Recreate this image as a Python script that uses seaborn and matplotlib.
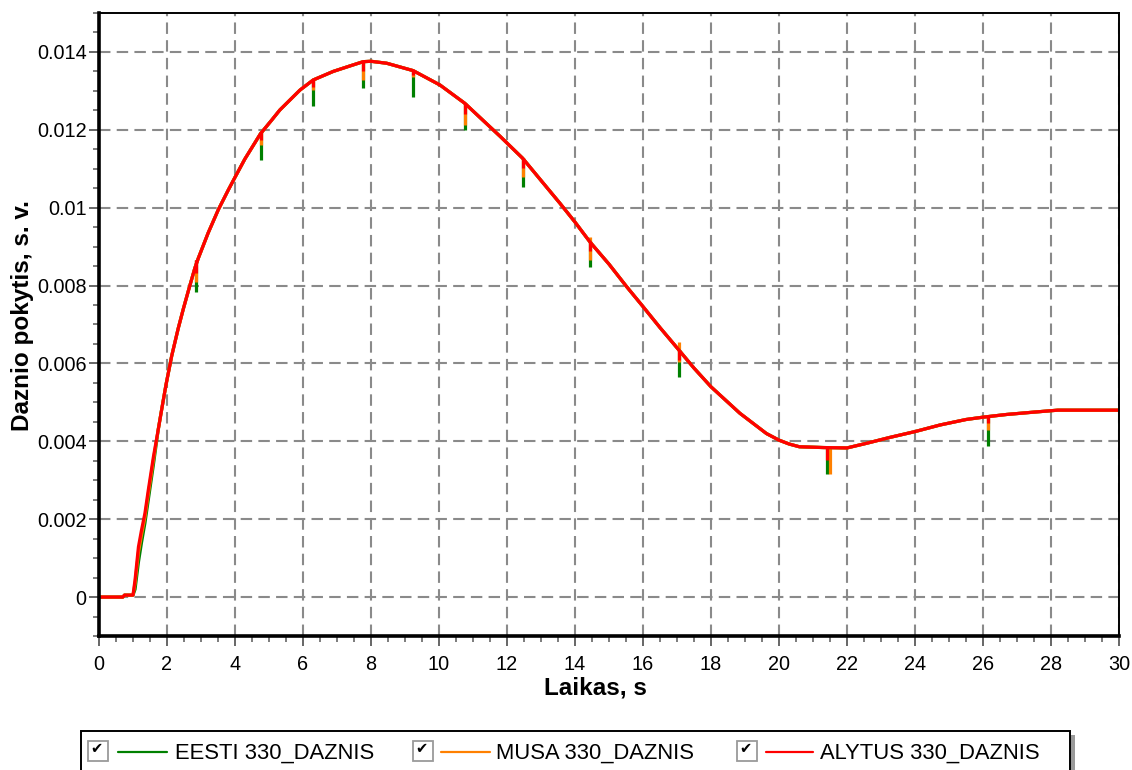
import matplotlib
matplotlib.use("Agg")
import matplotlib.pyplot as plt
from matplotlib.patches import Rectangle
from matplotlib.lines import Line2D
from matplotlib.ticker import MultipleLocator, FuncFormatter
import pandas as pd
import seaborn as sns

# --- data -------------------------------------------------------------------
series_names = ["EESTI 330_DAZNIS", "MUSA 330_DAZNIS", "ALYTUS 330_DAZNIS"]
series_colors = ["#008000", "#ff8000", "#ff0000"]

time_head = [0, 0.7, 0.75, 1.0, 1.06, 1.16, 1.25, 1.35, 1.45, 1.6]
time_tail = [1.74, 1.84, 1.97, 2.14, 2.33, 2.48, 2.63, 2.82, 2.92, 3.21,
             3.51, 3.8, 4.0, 4.29, 4.75, 5.08, 5.32, 5.91, 6.3, 6.89,
             7.38, 7.77, 8.0, 8.46, 9.24, 10.03, 10.76, 11.2, 11.8, 12.46,
             13.0, 13.56, 14.0, 14.44, 15.0, 15.52, 16.0, 16.5, 17.06, 17.5,
             18.0, 18.85, 19.24, 19.63, 20.0, 20.3, 20.6, 21.3, 22.0, 22.58,
             23.26, 24.0, 24.74, 25.5, 26.0, 26.7, 27.5, 28.2, 29.0, 30.0]

# start of the rise differs slightly between the three buses
eesti_head = [0, 0, 0.00005, 0.00005, 0.00020, 0.00090, 0.00140, 0.00190, 0.00250, 0.00340]
musa_head = [0, 0, 0.00005, 0.00005, 0.00035, 0.00115, 0.00160, 0.00205, 0.00265, 0.00352]
alytus_head = [0, 0, 0.00005, 0.00005, 0.00044, 0.00129, 0.00172, 0.00215, 0.00275, 0.00360]

# common course after the first second and a half
curve_tail = [0.00429, 0.00480, 0.00545, 0.00620, 0.00690, 0.00740, 0.00787, 0.00845, 0.00870, 0.00935,
              0.00995, 0.01045, 0.01078, 0.01125, 0.01190, 0.01225, 0.01251, 0.01302, 0.01328, 0.01350,
              0.01364, 0.01375, 0.01376, 0.01371, 0.01352, 0.01315, 0.01268, 0.01232, 0.01183, 0.01127,
              0.01070, 0.01011, 0.00963, 0.00912, 0.00855, 0.00797, 0.00746, 0.00692, 0.00634, 0.00588,
              0.00540, 0.00472, 0.00446, 0.00420, 0.00403, 0.00393, 0.00386, 0.00384, 0.00383, 0.00395,
              0.00410, 0.00425, 0.00442, 0.00456, 0.00462, 0.00469, 0.00475, 0.00480, 0.00480, 0.00480]

# short dips in the frequency signal (switching events)
spike_time = [2.85, 4.75, 6.30, 7.77, 9.24, 10.76, 12.46, 14.44, 17.06, 21.40, 26.14]
musa_spike_time = [2.85, 4.75, 6.30, 7.77, 9.24, 10.76, 12.46, 14.44, 17.06, 21.50, 26.14]
spike_top = [0.00866, 0.01195, 0.01328, 0.01375, 0.01354, 0.01268, 0.01127, 0.00915, 0.00634, 0.00386, 0.00463]
musa_spike_top = [0.00866, 0.01195, 0.01328, 0.01375, 0.01354, 0.01268, 0.01127, 0.00924, 0.00656, 0.00386, 0.00463]
eesti_spike_low = [0.00784, 0.01123, 0.01260, 0.01307, 0.01285, 0.01200, 0.01052, 0.00848, 0.00566, 0.00315, 0.00389]
musa_spike_low = [0.00810, 0.01161, 0.01302, 0.01328, 0.01335, 0.01213, 0.01080, 0.00866, 0.00604, 0.00315, 0.00429]
alytus_spike_low = [0.00831, 0.01174, 0.01310, 0.01350, 0.01340, 0.01240, 0.01101, 0.00890, 0.00610, 0.00352, 0.00446]

series_values = {
    series_names[0]: eesti_head + curve_tail,
    series_names[1]: musa_head + curve_tail,
    series_names[2]: alytus_head + curve_tail,
}
series_spikes = {
    series_names[0]: (spike_time, spike_top, eesti_spike_low),
    series_names[1]: (musa_spike_time, musa_spike_top, musa_spike_low),
    series_names[2]: (spike_time, spike_top, alytus_spike_low),
}

time_s = time_head + time_tail
frames = [pd.DataFrame({"t": time_s, "value": vals, "series": name})
          for name, vals in series_values.items()]
df = pd.concat(frames, ignore_index=True)

# --- style ------------------------------------------------------------------
sns.set_theme(style="white")
plt.rcParams["font.family"] = ["Liberation Sans", "DejaVu Sans"]

W, H = 1132, 770
fig = plt.figure(figsize=(W / 100, H / 100), dpi=100)
fig.patch.set_facecolor("white")

ax_l, ax_r, ax_t, ax_b = 99, 1119, 13, 636
ax = fig.add_axes([ax_l / W, 1 - ax_b / H, (ax_r - ax_l) / W, (ax_b - ax_t) / H])
ax.set_facecolor("white")

palette = dict(zip(series_names, series_colors))
sns.lineplot(data=df, x="t", y="value", hue="series", hue_order=series_names,
             palette=palette, estimator=None, sort=False, legend=False,
             linewidth=2.3, ax=ax)

for i, name in enumerate(series_names):
    st, top, low = series_spikes[name]
    ax.vlines(st, low, top, colors=palette[name], linewidth=2.3,
              zorder=1.9 + 0.07 * i)

ax.set_xlim(0, 30)
ax.set_ylim(-0.001, 0.015)
ax.xaxis.set_major_locator(MultipleLocator(2))
ax.xaxis.set_minor_locator(MultipleLocator(0.5))
ax.yaxis.set_major_locator(MultipleLocator(0.002))
ax.yaxis.set_minor_locator(MultipleLocator(0.0005))
ax.yaxis.set_major_formatter(FuncFormatter(lambda v, _: f"{round(v, 4):g}"))

ax.set_axisbelow(True)
ax.grid(True, which="major", color="#8a8a8a", linestyle=(0, (5.5, 3.0)),
        linewidth=1.5)

ax.tick_params(which="major", direction="out", length=7, width=1.4,
               color="#666666", labelsize=14.3, labelcolor="black")
ax.tick_params(which="minor", direction="out", length=4, width=1.2,
               color="#666666")
ax.tick_params(axis="x", which="major", pad=7)
ax.tick_params(axis="y", which="major", pad=2)
ax.tick_params(bottom=True, left=True, which="both")

for side in ("left", "bottom"):
    ax.spines[side].set_linewidth(2.6)
    ax.spines[side].set_color("black")
for side in ("top", "right"):
    ax.spines[side].set_linewidth(1.4)
    ax.spines[side].set_color("black")

ax.set_xlabel("Laikas, s", fontsize=17.5, fontweight="bold", color="black")
ax.set_ylabel("Daznio pokytis, s. v.", fontsize=17.5, fontweight="bold", color="black")
ax.xaxis.set_label_coords((595 - ax_l) / (ax_r - ax_l), -(677 - ax_b) / (ax_b - ax_t))
ax.yaxis.set_label_coords(-(ax_l - 34) / (ax_r - ax_l), (ax_b - 316) / (ax_b - ax_t))

# --- legend panel with check boxes -----------------------------------------
def fx(px):
    return px / W


def fy(py):
    return 1 - py / H


fig.add_artist(Rectangle((fx(1071), fy(790)), fx(4), fy(735) - fy(790),
                         transform=fig.transFigure, facecolor="#9a9a9a",
                         edgecolor="none", clip_on=False))
fig.add_artist(Rectangle((fx(81), fy(790)), fx(1070) - fx(81), fy(731) - fy(790),
                         transform=fig.transFigure, facecolor="white",
                         edgecolor="black", linewidth=1.4, clip_on=False))

entry_x = [88, 413, 737]
line_span = [(118, 167), (441, 490), (766, 813)]
text_x = [175, 496, 820]
row_y = 752
for i, name in enumerate(series_names):
    bx = entry_x[i]
    fig.add_artist(Rectangle((fx(bx), fy(761)), fx(20), fy(741) - fy(761),
                             transform=fig.transFigure, facecolor="white",
                             edgecolor="#9a9a9a", linewidth=1.3))
    fig.text(fx(bx + 8), fy(748), "\u2714", family="DejaVu Sans", fontsize=10.5,
             ha="center", va="center", color="black")
    x0, x1 = line_span[i]
    fig.add_artist(Line2D([fx(x0), fx(x1)], [fy(row_y), fy(row_y)],
                          transform=fig.transFigure, color=series_colors[i],
                          linewidth=1.6))
    fig.text(fx(text_x[i]), fy(row_y + 1), name, fontsize=15.8, ha="left",
             va="center", color="black")

fig.savefig("out.png", dpi=100, facecolor="white")
